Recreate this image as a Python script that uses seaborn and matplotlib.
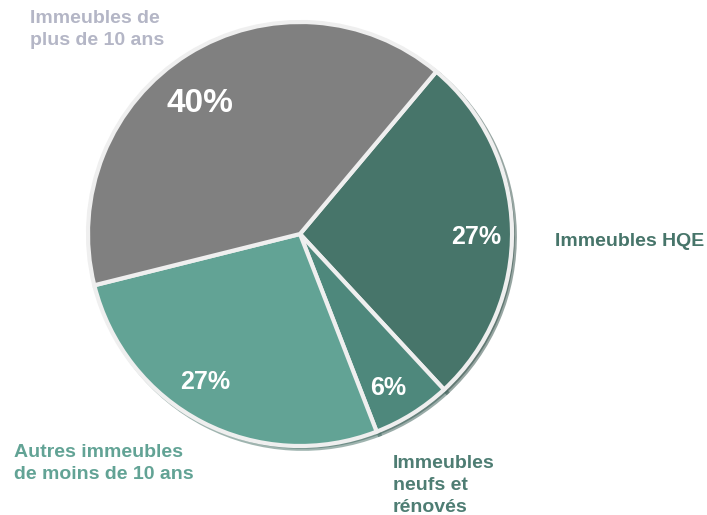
import numpy as np
import pandas as pd
import matplotlib
matplotlib.use("Agg")
import matplotlib.pyplot as plt
import seaborn as sns

categories = ["Immeubles HQE", "Immeubles neufs et rénovés",
              "Autres immeubles de moins de 10 ans", "Immeubles de plus de 10 ans"]
shares = [27, 6, 27, 40]
colors = ["#47756a", "#4e887c", "#62a395", "#808080"]
label_texts = ["Immeubles HQE", "Immeubles\nneufs et\nrénovés",
               "Autres immeubles\nde moins de 10 ans", "Immeubles de\nplus de 10 ans"]
label_colors = ["#47756a", "#4e7d73", "#62a395", "#b4b6c6"]

sns.set_theme(style="white")
plt.rcParams['font.family'] = ['Liberation Sans', 'DejaVu Sans']

df = pd.DataFrame({"cat": categories, "share": shares})

fig = plt.figure(figsize=(7.07, 5.15), dpi=100)
ax = fig.add_axes([0, 0, 1, 1])

# y axis is flipped below, so counterclock in data = clockwise on screen
wedges, texts, autotexts = ax.pie(
    df["share"], colors=colors, startangle=-50, counterclock=True,
    center=(300, 234), radius=212, explode=[0.015, 0, 0, 0],
    autopct=lambda p: f"{p:.0f}%", pctdistance=0.82,
    wedgeprops=dict(edgecolor="#efefef", linewidth=3),
    shadow=dict(ox=2, oy=2, shade=0.35),
    textprops=dict(color="white", fontweight="bold", fontsize=18))
autotexts[3].set_fontsize(24)
# nudge the percentage labels to where the original has them
for at, xy in zip(autotexts, [(476, 237), (388, 388), (205, 382), (200, 103)]):
    at.set_position(xy)
    at.set_va("center")

ax.set_xlim(0, 707)
ax.set_ylim(515, 0)
ax.set_aspect('equal')
ax.axis('off')

# category labels
pos = [(555, 242, 'left', 'center'), (393, 455, 'left', 'top'),
       (14, 444, 'left', 'top'), (30, 10, 'left', 'top')]
for t, c, (x, y, ha, va) in zip(label_texts, label_colors, pos):
    ax.text(x, y, t, color=c, fontsize=14, fontweight="bold",
            ha=ha, va=va, linespacing=1.4)

fig.savefig("out.png", dpi=100)
